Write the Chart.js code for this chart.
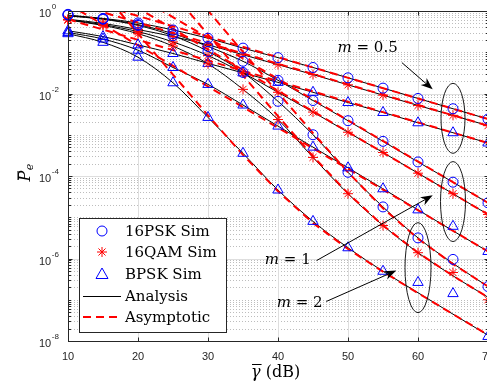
<!DOCTYPE html>
<html>
<head>
<meta charset="utf-8">
<script src="https://cdn.jsdelivr.net/npm/chart.js@4.4.1/dist/chart.umd.min.js"></script>
<style>
  html, body { margin: 0; padding: 0; background: #fff; overflow: hidden; }
  canvas { display: block; }
</style>
</head>
<body>
<canvas id="chart" width="500" height="387"></canvas>
<script>
// average SNR (dB) where the curves are evaluated
const snrDb = [10, 15, 20, 25, 30, 35, 40, 45, 50, 55, 60, 65, 70];

// analysis, m = 0.5
const psk05 = [0.794, 0.661, 0.513, 0.347, 0.219, 0.126, 7.41e-2, 4.27e-2, 2.40e-2, 1.35e-2, 7.59e-3, 4.27e-3, 2.40e-3];
const qam05 = [0.631, 0.501, 0.355, 0.240, 0.151, 8.71e-2, 5.01e-2, 2.88e-2, 1.62e-2, 9.12e-3, 5.13e-3, 2.95e-3, 1.66e-3];
const bpsk05 = [0.331, 0.240, 0.151, 9.33e-2, 5.37e-2, 3.16e-2, 1.86e-2, 1.07e-2, 6.03e-3, 3.47e-3, 1.95e-3, 1.12e-3, 6.31e-4];
// analysis, m = 1
const psk1 = [0.776, 0.646, 0.468, 0.282, 0.138, 6.03e-2, 2.09e-2, 6.76e-3, 2.19e-3, 6.92e-4, 2.19e-4, 7.08e-5, 2.24e-5];
const qam1 = [0.617, 0.468, 0.316, 0.178, 8.32e-2, 3.16e-2, 1.07e-2, 3.55e-3, 1.15e-3, 3.72e-4, 1.17e-4, 3.72e-5, 1.17e-5];
const bpsk1 = [0.302, 0.209, 0.112, 4.27e-2, 1.66e-2, 5.25e-3, 1.62e-3, 5.01e-4, 1.58e-4, 4.90e-5, 1.51e-5, 4.68e-6, 1.48e-6];
// analysis, m = 2
const psk2 = [0.759, 0.631, 0.447, 0.251, 0.105, 3.24e-2, 6.46e-3, 1.00e-3, 1.23e-4, 1.78e-5, 3.16e-6, 7.59e-7, 2.09e-7];
const qam2 = [0.603, 0.447, 0.282, 0.141, 5.25e-2, 1.26e-2, 2.34e-3, 2.82e-4, 3.72e-5, 6.31e-6, 1.38e-6, 3.80e-7, 1.15e-7];
const bpsk2 = [0.282, 0.174, 7.59e-2, 1.82e-2, 2.63e-3, 3.55e-4, 4.57e-5, 7.94e-6, 1.82e-6, 4.90e-7, 1.48e-7, 4.47e-8, 1.38e-8];

// simulation markers
const simPsk05 = [0.83, 0.661, 0.513, 0.347, 0.219, 0.126, 7.41e-2, 4.27e-2, 2.40e-2, 1.35e-2, 7.59e-3, 4.27e-3, 2.40e-3];
const simQam05 = [0.631, 0.501, 0.355, 0.240, 0.151, 8.71e-2, 5.01e-2, 2.88e-2, 1.62e-2, 9.12e-3, 5.13e-3, 2.95e-3, 1.66e-3];
const simBpsk05 = [0.331, 0.240, 0.151, 9.33e-2, 5.37e-2, 3.16e-2, 1.86e-2, 1.07e-2, 6.03e-3, 3.47e-3, 1.95e-3, 1.12e-3, 6.31e-4];
const simPsk1 = [0.81, 0.646, 0.468, 0.282, 0.138, 6.03e-2, 2.09e-2, 6.76e-3, 2.19e-3, 6.92e-4, 2.19e-4, 7.08e-5, 2.24e-5];
const simQam1 = [0.617, 0.468, 0.316, 0.178, 8.32e-2, 3.16e-2, 1.07e-2, 3.55e-3, 1.15e-3, 3.72e-4, 1.17e-4, 3.72e-5, 1.17e-5];
const simBpsk1 = [0.302, 0.209, 0.112, 4.27e-2, 1.66e-2, 5.25e-3, 1.62e-3, 5.01e-4, 1.58e-4, 4.90e-5, 1.51e-5, 6.03e-6, 1.48e-6];
const simPsk2 = [0.80, 0.631, 0.447, 0.251, 0.105, 3.24e-2, 6.46e-3, 1.00e-3, 1.23e-4, 1.78e-5, 3.16e-6, 9.5e-7, 2.09e-7];
const simQam2 = [0.603, 0.447, 0.282, 0.141, 5.25e-2, 1.26e-2, 2.34e-3, 2.82e-4, 3.72e-5, 6.31e-6, 1.38e-6, 4.57e-7, 1.0e-7];
const simBpsk2 = [0.282, 0.174, 7.59e-2, 1.82e-2, 2.63e-3, 3.55e-4, 4.57e-5, 7.94e-6, 1.82e-6, 4.90e-7, 2.63e-7, 1.41e-7, 1.29e-8];

// asymptotic curves
const asymEnds = [10, 70];
const asymPsk05 = [2.40, 2.40e-3];
const asymQam05 = [1.66, 1.66e-3];
const asymBpsk05 = [0.631, 6.31e-4];
const asymPsk1 = [22.4, 2.24e-5];
const asymQam1 = [11.7, 1.17e-5];
const asymBpsk1 = [1.48, 1.48e-6];
const asymSnrFrom25 = [25, 30, 35, 40, 45, 50, 55, 60, 65, 70];
const asymSnrFrom15 = [15, 20, 25, 30, 35, 40, 45, 50, 55, 60, 65, 70];
const asymPsk2 = [10.2, 1.02, 0.102, 1.05e-2, 1.10e-3, 1.23e-4, 1.66e-5, 3.02e-6, 7.33e-7, 2.10e-7];
const asymQam2 = [2.69, 0.269, 2.75e-2, 2.82e-3, 3.02e-4, 3.80e-5, 6.31e-6, 1.38e-6, 3.80e-7, 1.15e-7];
const asymBpsk2 = [2.82, 0.282, 2.88e-2, 2.95e-3, 3.24e-4, 4.27e-5, 7.24e-6, 1.70e-6, 4.79e-7, 1.45e-7, 4.47e-8, 1.41e-8];

// axes
const xTicks = [10, 20, 30, 40, 50, 60, 70];
const yTickExps = [0, -2, -4, -6, -8];
const legendLabels = ['16PSK Sim', '16QAM Sim', 'BPSK Sim', 'Analysis', 'Asymptotic'];

const BLUE = '#0000ff';
const RED = '#ff0000';
const AXIS = '#262626';
const sansFont = '"Liberation Sans", Arial, sans-serif';
const texFont = '"DejaVu Serif", serif';

const toPoints = (xs, ys) => xs.map((x, i) => ({ x: x, y: ys[i] }));

function simSet(ys, style, color, r) {
    return {
        data: toPoints(snrDb, ys),
        showLine: false,
        pointStyle: style,
        pointRadius: r,
        pointBorderColor: color,
        pointBackgroundColor: 'rgba(0,0,0,0)',
        pointBorderWidth: 1,
        clip: false
    };
}

function analysisSet(ys) {
    return {
        data: toPoints(snrDb, ys),
        borderColor: '#000',
        borderWidth: 1,
        pointRadius: 0,
        cubicInterpolationMode: 'monotone'
    };
}

function asymSet(xs, ys) {
    return {
        data: toPoints(xs, ys),
        borderColor: RED,
        borderWidth: 2,
        borderDash: [8, 5],
        pointRadius: 0
    };
}

function line(ctx, x0, y0, x1, y1) {
    ctx.beginPath();
    ctx.moveTo(x0, y0);
    ctx.lineTo(x1, y1);
    ctx.stroke();
}

function arrow(ctx, x0, y0, x1, y1) {
    const ang = Math.atan2(y1 - y0, x1 - x0);
    const len = 12, half = 4.5;
    ctx.strokeStyle = '#000';
    ctx.lineWidth = 1;
    line(ctx, x0, y0, x1 - Math.cos(ang) * 6, y1 - Math.sin(ang) * 6);
    ctx.save();
    ctx.translate(x1, y1);
    ctx.rotate(ang);
    ctx.fillStyle = '#000';
    ctx.beginPath();
    ctx.moveTo(0, 0);
    ctx.lineTo(-len, -half);
    ctx.lineTo(-len * 0.7, 0);
    ctx.lineTo(-len, half);
    ctx.closePath();
    ctx.fill();
    ctx.restore();
}

function mathLabel(ctx, cx, cy, value) {
    ctx.font = 'italic 15px ' + texFont;
    const w1 = ctx.measureText('m').width;
    ctx.font = '15px ' + texFont;
    const rest = ' = ' + value;
    const w2 = ctx.measureText(rest).width;
    const left = cx - (w1 + w2) / 2;
    ctx.fillStyle = '#000';
    ctx.textBaseline = 'middle';
    ctx.textAlign = 'left';
    ctx.font = 'italic 15px ' + texFont;
    ctx.fillText('m', left, cy);
    ctx.font = '15px ' + texFont;
    ctx.fillText(rest, left + w1, cy);
}

function ellipse(ctx, cx, cy, rx, ry) {
    ctx.strokeStyle = '#000';
    ctx.lineWidth = 0.9;
    ctx.beginPath();
    ctx.ellipse(cx, cy, rx, ry, 0, 0, Math.PI * 2);
    ctx.stroke();
}

const decorations = {
    id: 'decorations',
    beforeDatasetsDraw(chart) {
        const { ctx, chartArea: a, scales: { x, y } } = chart;
        ctx.save();
        ctx.lineWidth = 1;
        // minor grid, dotted
        ctx.strokeStyle = '#bdbdbd';
        ctx.setLineDash([1, 2]);
        for (let e = -8; e < 0; e++) {
            for (let d = 1; d <= 9; d++) {
                if (d === 1 && e % 2 === 0) continue;
                const py = Math.round(y.getPixelForValue(d * Math.pow(10, e))) + 0.5;
                line(ctx, a.left, py, a.right, py);
            }
        }
        // major grid
        ctx.setLineDash([]);
        ctx.strokeStyle = '#dedede';
        yTickExps.forEach(e => {
            const py = Math.round(y.getPixelForValue(Math.pow(10, e))) + 0.5;
            line(ctx, a.left, py, a.right, py);
        });
        xTicks.forEach(v => {
            const px = Math.round(x.getPixelForValue(v)) + 0.5;
            line(ctx, px, a.top, px, a.bottom);
        });
        ctx.restore();
    },
    afterDatasetsDraw(chart) {
        const { ctx, chartArea: a, scales: { x, y } } = chart;
        ctx.save();

        // axes box and ticks
        ctx.strokeStyle = AXIS;
        ctx.lineWidth = 1;
        const L = Math.round(a.left) + 0.5, R = Math.round(a.right) + 0.5;
        const T = Math.round(a.top) + 0.5, B = Math.round(a.bottom) + 0.5;
        ctx.strokeRect(L, T, R - L, B - T);
        xTicks.forEach(v => {
            const px = Math.round(x.getPixelForValue(v)) + 0.5;
            line(ctx, px, B, px, B - 4);
            line(ctx, px, T, px, T + 4);
        });
        for (let e = -8; e < 0; e++) {
            for (let d = 1; d <= 9; d++) {
                const py = Math.round(y.getPixelForValue(d * Math.pow(10, e))) + 0.5;
                const len = (d === 1 && e % 2 === 0) ? 4 : 2.5;
                line(ctx, L, py, L + len, py);
                line(ctx, R, py, R - len, py);
            }
        }

        // tick labels
        ctx.fillStyle = AXIS;
        ctx.textBaseline = 'middle';
        ctx.textAlign = 'center';
        ctx.font = '11px ' + sansFont;
        xTicks.forEach(v => ctx.fillText(String(v), x.getPixelForValue(v), a.bottom + 16));
        yTickExps.forEach(e => {
            const py = y.getPixelForValue(Math.pow(10, e));
            ctx.textAlign = 'left';
            ctx.font = '11px ' + sansFont;
            ctx.fillText('10', 39, py + 3);
            const w = ctx.measureText('10').width;
            ctx.font = '8px ' + sansFont;
            ctx.fillText(String(e), 39 + w + 0.5, py - 4);
        });

        // axis titles
        ctx.fillStyle = '#000';
        ctx.textAlign = 'left';
        ctx.font = 'italic 16px ' + texFont;
        const gx = 251, gy = a.bottom + 32;
        ctx.fillText('\u03b3', gx, gy);
        const gw = ctx.measureText('\u03b3').width;
        ctx.lineWidth = 1;
        ctx.strokeStyle = '#000';
        line(ctx, gx + 1, gy - 8.5, gx + gw + 1, gy - 8.5);
        ctx.font = '16px ' + texFont;
        ctx.fillText(' (dB)', gx + gw, gy);

        ctx.save();
        ctx.translate(26, 176);
        ctx.rotate(-Math.PI / 2);
        ctx.font = 'italic 16px ' + texFont;
        ctx.textAlign = 'center';
        ctx.fillText('P', 0, 0);
        line(ctx, -4, -8, 5, -8);
        ctx.font = 'italic 11px ' + texFont;
        ctx.fillText('e', 9, 4);
        ctx.restore();

        // legend
        const lx = a.left + 11, ly = a.bottom - 123, lw = 147, lh = 114;
        ctx.fillStyle = '#fff';
        ctx.fillRect(lx + 0.5, ly + 0.5, lw, lh);
        ctx.strokeStyle = AXIS;
        ctx.lineWidth = 1;
        ctx.strokeRect(lx + 0.5, ly + 0.5, lw, lh);
        const rowY = [13, 34, 56, 78, 99].map(d => ly + d);
        const mx = lx + 23;
        ctx.strokeStyle = BLUE;
        ctx.beginPath(); ctx.arc(mx, rowY[0], 5, 0, Math.PI * 2); ctx.stroke();
        ctx.strokeStyle = RED;
        for (let k = 0; k < 4; k++) {
            const t = k * Math.PI / 4;
            line(ctx, mx - 5 * Math.cos(t), rowY[1] - 5 * Math.sin(t), mx + 5 * Math.cos(t), rowY[1] + 5 * Math.sin(t));
        }
        ctx.strokeStyle = BLUE;
        ctx.beginPath();
        ctx.moveTo(mx, rowY[2] - 6);
        ctx.lineTo(mx + 6, rowY[2] + 4.5);
        ctx.lineTo(mx - 6, rowY[2] + 4.5);
        ctx.closePath();
        ctx.stroke();
        ctx.strokeStyle = '#000';
        line(ctx, lx + 4, rowY[3] + 0.5, lx + 42, rowY[3] + 0.5);
        ctx.strokeStyle = RED;
        ctx.lineWidth = 2;
        ctx.setLineDash([8, 5]);
        line(ctx, lx + 4, rowY[4], lx + 42, rowY[4]);
        ctx.setLineDash([]);
        ctx.fillStyle = '#000';
        ctx.font = '15px ' + texFont;
        ctx.textAlign = 'left';
        legendLabels.forEach((t, i) => ctx.fillText(t, lx + 46, rowY[i] + 1));

        // annotations
        ellipse(ctx, x.getPixelForValue(65), y.getPixelForValue(2.5e-3), 12, 35);
        ellipse(ctx, x.getPixelForValue(65), y.getPixelForValue(2.4e-5), 12.5, 40);
        ellipse(ctx, x.getPixelForValue(60), y.getPixelForValue(6.0e-7), 13, 45);
        mathLabel(ctx, x.getPixelForValue(52.8), y.getPixelForValue(0.123), '0.5');
        mathLabel(ctx, x.getPixelForValue(41.4), y.getPixelForValue(8.9e-7), '1');
        mathLabel(ctx, x.getPixelForValue(43.1), y.getPixelForValue(8.5e-8), '2');
        arrow(ctx, x.getPixelForValue(57.7), y.getPixelForValue(5.6e-2), x.getPixelForValue(62.1), y.getPixelForValue(1.26e-2));
        arrow(ctx, x.getPixelForValue(45.5), y.getPixelForValue(8.9e-7), x.getPixelForValue(62.1), y.getPixelForValue(3.4e-5));
        arrow(ctx, x.getPixelForValue(46.9), y.getPixelForValue(9.1e-8), x.getPixelForValue(56.9), y.getPixelForValue(5.1e-7));

        ctx.restore();
    }
};

new Chart(document.getElementById('chart'), {
    type: 'line',
    data: {
        datasets: [
            simSet(simPsk05, 'circle', BLUE, 5),
            simSet(simPsk1, 'circle', BLUE, 5),
            simSet(simPsk2, 'circle', BLUE, 5),
            simSet(simQam05, 'star', RED, 5),
            simSet(simQam1, 'star', RED, 5),
            simSet(simQam2, 'star', RED, 5),
            simSet(simBpsk05, 'triangle', BLUE, 6),
            simSet(simBpsk1, 'triangle', BLUE, 6),
            simSet(simBpsk2, 'triangle', BLUE, 6),
            asymSet(asymEnds, asymPsk05),
            asymSet(asymEnds, asymQam05),
            asymSet(asymEnds, asymBpsk05),
            asymSet(asymEnds, asymPsk1),
            asymSet(asymEnds, asymQam1),
            asymSet(asymEnds, asymBpsk1),
            asymSet(asymSnrFrom25, asymPsk2),
            asymSet(asymSnrFrom25, asymQam2),
            asymSet(asymSnrFrom15, asymBpsk2),
            analysisSet(psk05),
            analysisSet(qam05),
            analysisSet(bpsk05),
            analysisSet(psk1),
            analysisSet(qam1),
            analysisSet(bpsk1),
            analysisSet(psk2),
            analysisSet(qam2),
            analysisSet(bpsk2)
        ]
    },
    options: {
        responsive: false,
        animation: false,
        devicePixelRatio: 1,
        events: [],
        layout: { padding: { left: 68, right: 12, top: 11, bottom: 46 } },
        plugins: {
            legend: { display: false },
            tooltip: { enabled: false }
        },
        scales: {
            x: { type: 'linear', min: 10, max: 70, display: false },
            y: { type: 'logarithmic', min: 1e-8, max: 1, display: false }
        }
    },
    plugins: [decorations]
});
</script>
</body>
</html>
